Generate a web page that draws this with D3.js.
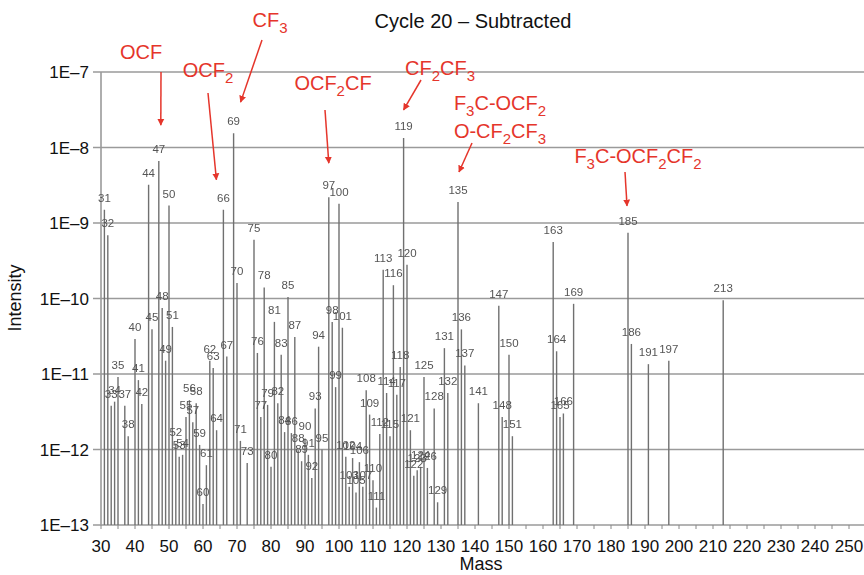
<!DOCTYPE html>
<html>
<head>
<meta charset="utf-8">
<script src="https://cdn.jsdelivr.net/npm/d3@7"></script>
<style>
  body { margin: 0; background: #fff; }
  svg text { font-family: "Liberation Sans Narrow", "Arial Narrow", "Liberation Sans", Arial, sans-serif; }
  .peak-labels { filter: grayscale(1); }
</style>
</head>
<body>
<svg id="chart" width="864" height="575"></svg>
<script>
const masses = [
  31, 32, 33, 34, 35, 37, 38, 40, 41, 42, 44, 45, 47, 48, 49, 50, 51, 52, 53, 54,
  55, 56, 57, 58, 59, 60, 61, 62, 63, 64, 66, 67, 69, 70, 71, 73, 75, 76, 77, 78,
  79, 80, 81, 82, 83, 84, 85, 86, 87, 88, 89, 90, 91, 92, 93, 94, 95, 97, 98, 99,
  100, 101, 102, 103, 104, 105, 106, 107, 108, 109, 110, 111, 112, 113, 114, 115, 116, 117, 118, 119,
  120, 121, 122, 123, 124, 125, 126, 128, 129, 131, 132, 135, 136, 137, 141, 147, 148, 150, 151, 163,
  164, 165, 166, 169, 185, 186, 191, 197, 213
];
const intensities = [
  1.5e-9, 6.9e-10, 3.8e-12, 4.3e-12, 9.1e-12, 3.8e-12, 1.5e-12, 2.9e-11, 8.3e-12, 4.0e-12,
  3.2e-9, 3.9e-11, 6.6e-9, 7.5e-11, 1.5e-11, 1.7e-9, 4.2e-11, 1.2e-12, 8.0e-13, 8.5e-13,
  2.7e-12, 4.5e-12, 2.3e-12, 4.1e-12, 1.15e-12, 1.9e-13, 6.2e-13, 1.5e-11, 1.2e-11, 1.8e-12,
  1.5e-9, 1.7e-11, 1.55e-8, 1.6e-10, 1.3e-12, 6.6e-13, 6.0e-10, 1.9e-11, 2.7e-12, 1.4e-10,
  3.9e-12, 5.9e-13, 4.9e-11, 4.1e-12, 1.8e-11, 1.7e-12, 1.05e-10, 1.65e-12, 3.1e-11, 9.8e-13,
  7.0e-13, 1.4e-12, 8.5e-13, 4.2e-13, 3.5e-12, 2.3e-11, 1.0e-12, 2.2e-9, 4.9e-11, 6.7e-12,
  1.8e-9, 4.1e-11, 8.0e-13, 3.2e-13, 7.7e-13, 2.7e-13, 6.8e-13, 3.2e-13, 6.1e-12, 2.9e-12,
  3.9e-13, 1.7e-13, 1.6e-12, 2.4e-10, 5.6e-12, 1.5e-12, 1.5e-10, 5.3e-12, 1.24e-11, 1.34e-8,
  2.8e-10, 1.8e-12, 4.5e-13, 5.3e-13, 5.9e-13, 9.1e-12, 5.7e-13, 3.5e-12, 2.0e-13, 2.2e-11,
  5.6e-12, 1.9e-9, 3.9e-11, 1.3e-11, 4.1e-12, 8.0e-11, 2.7e-12, 1.8e-11, 1.5e-12, 5.6e-10,
  2.0e-11, 2.7e-12, 3.0e-12, 8.5e-11, 7.4e-10, 2.5e-11, 1.35e-11, 1.5e-11, 9.5e-11
];
const xTicks = d3.range(30, 251, 10);
const yTicks = [1e-13, 1e-12, 1e-11, 1e-10, 1e-9, 1e-8, 1e-7];
const yTickLabels = ["1E\u201313", "1E\u201312", "1E\u201311", "1E\u201310", "1E\u20139", "1E\u20138", "1E\u20137"];

// annotation: target mass, text lines ("_n" = subscript digit), label centre/baseline, arrow tail, tip offset
const annotations = [
  { mass: 47, lines: ["OCF"], tx: 141, ty: 59, ax: 161, ay: 72, dx: 2, gap: 36 },
  { mass: 66, lines: ["OCF_2"], tx: 208, ty: 77, ax: 208, ay: 93, dx: -7, gap: 30 },
  { mass: 69, lines: ["CF_3"], tx: 270, ty: 27, ax: 262, ay: 40, dx: 7, gap: 31 },
  { mass: 97, lines: ["OCF_2CF"], tx: 333, ty: 90, ax: 325, ay: 110, dx: 0, gap: 34 },
  { mass: 119, lines: ["CF_2CF_3"], tx: 440, ty: 75, ax: 421, ay: 80, dx: 0, gap: 28 },
  { mass: 135, lines: ["F_3C-OCF_2", "O-CF_2CF_3"], tx: 500, ty: 110, ax: 472, ay: 143, dx: 1, gap: 30 },
  { mass: 185, lines: ["F_3C-OCF_2CF_2"], tx: 638, ty: 163, ax: 625, ay: 172, dx: -1, gap: 27 }
];

const RED = "#e5352b";
const svg = d3.select("#chart");
const x = d3.scaleLinear([30, 254], [101, 862.6]);
const y = d3.scaleLog([1e-13, 1e-7], [525, 72]);

svg.append("text")
  .attr("x", 473).attr("y", 28)
  .attr("text-anchor", "middle")
  .attr("font-size", 20)
  .attr("fill", "#111")
  .text("Cycle 20 \u2013 Subtracted");

// horizontal grid at every decade
svg.append("g")
  .selectAll("line")
  .data(yTicks)
  .join("line")
  .attr("x1", 93).attr("x2", 864)
  .attr("y1", (d) => y(d)).attr("y2", (d) => y(d))
  .attr("stroke", "#9a9a9a")
  .attr("stroke-width", 1.6);

svg.append("line")
  .attr("x1", x(30)).attr("x2", x(30))
  .attr("y1", y(1e-7)).attr("y2", y(1e-13))
  .attr("stroke", "#9a9a9a")
  .attr("stroke-width", 1.6);

svg.append("g")
  .selectAll("text")
  .data(yTicks)
  .join("text")
  .attr("x", 89)
  .attr("y", (d) => y(d) + 6)
  .attr("text-anchor", "end")
  .attr("font-size", 17)
  .attr("fill", "#111")
  .text((d, i) => yTickLabels[i]);

// x axis: minor ticks every 5, labels every 10
svg.append("g")
  .selectAll("line")
  .data(d3.range(30, 255, 5))
  .join("line")
  .attr("x1", (d) => x(d)).attr("x2", (d) => x(d))
  .attr("y1", 525).attr("y2", 529)
  .attr("stroke", "#888")
  .attr("stroke-width", 1);

svg.append("g")
  .selectAll("text")
  .data(xTicks)
  .join("text")
  .attr("x", (d) => x(d))
  .attr("y", 552)
  .attr("text-anchor", "middle")
  .attr("font-size", 17)
  .attr("fill", "#111")
  .text((d) => d);

svg.append("text")
  .attr("x", 481).attr("y", 570)
  .attr("text-anchor", "middle")
  .attr("font-size", 18)
  .attr("fill", "#111")
  .text("Mass");

svg.append("text")
  .attr("transform", "translate(21,298) rotate(-90)")
  .attr("text-anchor", "middle")
  .attr("font-size", 18)
  .attr("fill", "#111")
  .text("Intensity");

// peaks
const peaks = masses.map((m, i) => ({ mass: m, value: intensities[i] }));

svg.append("g")
  .selectAll("line")
  .data(peaks)
  .join("line")
  .attr("x1", (d) => x(d.mass)).attr("x2", (d) => x(d.mass))
  .attr("y1", y(1e-13)).attr("y2", (d) => y(d.value))
  .attr("stroke", "#707070")
  .attr("stroke-width", 1.4);

svg.append("g")
  .attr("class", "peak-labels")
  .selectAll("text")
  .data(peaks)
  .join("text")
  .attr("x", (d) => x(d.mass))
  .attr("y", (d) => y(d.value) - 8)
  .attr("text-anchor", "middle")
  .attr("font-family", "Liberation Sans, Arial, sans-serif")
  .attr("font-size", 11.5)
  .attr("fill", "#555")
  .text((d) => d.mass);

// annotations
svg.append("defs").append("marker")
  .attr("id", "head")
  .attr("viewBox", "0 0 10 10")
  .attr("refX", 9).attr("refY", 5)
  .attr("markerWidth", 7).attr("markerHeight", 8)
  .attr("markerUnits", "userSpaceOnUse")
  .attr("orient", "auto")
  .append("path")
  .attr("d", "M0,0 L10,5 L0,10 z")
  .attr("fill", RED);

function writeChem(textSel, str) {
  const parts = str.split(/(_\d)/).filter((p) => p.length);
  let sub = false;
  parts.forEach((p) => {
    if (p.startsWith("_")) {
      textSel.append("tspan").attr("dy", 6).attr("font-size", 15).text(p.slice(1));
      sub = true;
    } else {
      textSel.append("tspan").attr("dy", sub ? -6 : 0).text(p);
      sub = false;
    }
  });
}

const byMass = new Map(peaks.map((p) => [p.mass, p.value]));
const ann = svg.append("g");
annotations.forEach((a) => {
  a.lines.forEach((line, i) => {
    const t = ann.append("text")
      .attr("x", a.tx).attr("y", a.ty + i * 28)
      .attr("text-anchor", "middle")
      .attr("font-family", "Liberation Sans, Arial, sans-serif")
      .attr("font-size", 20)
      .attr("fill", RED);
    writeChem(t, line);
  });
  ann.append("line")
    .attr("x1", a.ax).attr("y1", a.ay)
    .attr("x2", x(a.mass) + a.dx)
    .attr("y2", y(byMass.get(a.mass)) - a.gap)
    .attr("stroke", RED)
    .attr("stroke-width", 1.5)
    .attr("marker-end", "url(#head)");
});
</script>
</body>
</html>
